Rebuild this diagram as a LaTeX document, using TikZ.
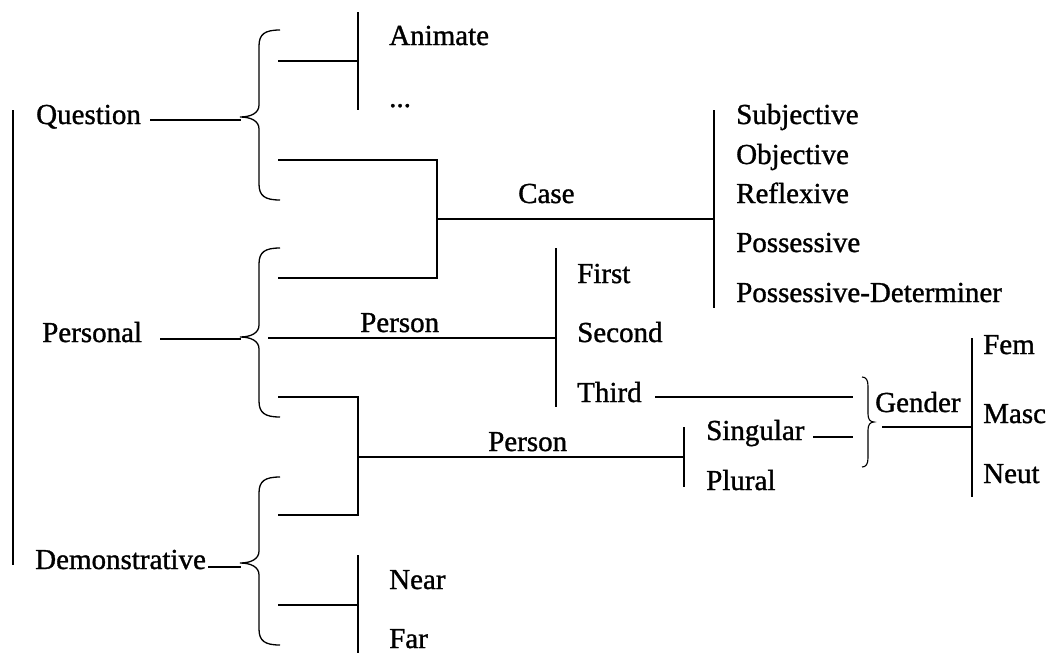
\documentclass[tikz,border=0pt]{standalone}
\usepackage{fontspec}
\setmainfont{Liberation Serif}[BoldFont={Liberation Serif},BoldFeatures={FakeBold=1.1}]
\newcommand{\leftcurl}[4]{% #1 x of stem, #2 top y, #3 tip y, #4 bottom y
  \draw[brc] (#1+21,#2) .. controls (#1+6,#2) and (#1,#2+4) .. (#1,#2+16)
    -- (#1,#3-12) .. controls (#1,#3-4) and (#1-8,#3) .. (#1-19,#3)
    .. controls (#1-8,#3) and (#1,#3+4) .. (#1,#3+12)
    -- (#1,#4-16) .. controls (#1,#4-4) and (#1+6,#4) .. (#1+21,#4);}
\begin{document}
\begin{tikzpicture}[x=1pt,y=-1pt,
  ln/.style={line width=1.6pt},
  brc/.style={line width=1.3pt},
  lbl/.style={anchor=base west, inner sep=0pt, font=\fontsize{29}{30}\selectfont\bfseries}]
\useasboundingbox[fill=white] (0,0) rectangle (1048,653);

% ---- text nodes ----
\node[lbl] (question) at (36,124) {Question};
\node[lbl] (personal) at (42,342) {Personal};
\node[lbl] (demonst) at (35,569) {Demonstrative};
\node[lbl] (animate) at (389,45) {Animate};
\node[lbl] (dots) at (389,107) {...};
\node[lbl] (case) at (518,203) {Case};
\node[lbl] (subj) at (736,124) {Subjective};
\node[lbl] (obj) at (736,164) {Objective};
\node[lbl] (refl) at (736,203) {Reflexive};
\node[lbl] (poss) at (736,252) {Possessive};
\node[lbl] (possdet) at (736,302) {Possessive-Determiner};
\node[lbl] (person1) at (360,332) {Person};
\node[lbl] (first) at (577,283) {First};
\node[lbl] (second) at (577,342) {Second};
\node[lbl] (third) at (577,402) {Third};
\node[lbl] (person2) at (488,451) {Person};
\node[lbl] (singular) at (706,440) {Singular};
\node[lbl] (plural) at (706,490) {Plural};
\node[lbl] (gender) at (875,412) {Gender};
\node[lbl] (fem) at (983,354) {Fem};
\node[lbl] (masc) at (983,423) {Masc};
\node[lbl] (neut) at (983,483) {Neut};
\node[lbl] (near) at (389,589) {Near};
\node[lbl] (far) at (389,648) {Far};

% ---- coordinates ----
\coordinate (rootT) at (13,110);  \coordinate (rootB) at (13,565);
\coordinate (qA) at (150,120);    \coordinate (qB) at (241,120);
\coordinate (pA) at (160,339);    \coordinate (pB) at (241,339);
\coordinate (dA) at (208,567);    \coordinate (dB) at (241,567);
% animate branch
\coordinate (anA) at (278,61);    \coordinate (anB) at (358,61);
\coordinate (anT) at (358,12);    \coordinate (anD) at (358,110);
% case branch
\coordinate (cA) at (278,160);    \coordinate (cB) at (437,160);
\coordinate (cC) at (437,278);    \coordinate (cD) at (278,278);
\coordinate (cM) at (437,219);    \coordinate (cE) at (714,219);
\coordinate (cT) at (714,110);    \coordinate (cBot) at (714,308);
% person 1
\coordinate (p1A) at (268,338);   \coordinate (p1B) at (556,338);
\coordinate (p1T) at (556,248);   \coordinate (p1D) at (556,407);
% person 2
\coordinate (p2A) at (278,397);   \coordinate (p2B) at (358,397);
\coordinate (p2C) at (358,515);   \coordinate (p2D) at (278,515);
\coordinate (p2M) at (358,457);   \coordinate (p2E) at (684,457);
\coordinate (p2T) at (684,427);   \coordinate (p2Bot) at (684,487);
% near/far
\coordinate (nA) at (278,605);    \coordinate (nB) at (358,605);
\coordinate (nT) at (358,555);    \coordinate (nD) at (358,653);
% gender
\coordinate (thA) at (655,397);   \coordinate (thB) at (853,397);
\coordinate (sgA) at (813,437);   \coordinate (sgB) at (853,437);
\coordinate (gA) at (882,427);    \coordinate (gB) at (972,427);
\coordinate (gT) at (972,338);    \coordinate (gD) at (972,497);

% ---- lines ----
\draw[ln] (rootT) -- (rootB);
\draw[ln] (qA) -- (qB);
\draw[ln] (pA) -- (pB);
\draw[ln] (dA) -- (dB);
\draw[ln] (anA) -- (anB);
\draw[ln] (anT) -- (anD);
\draw[ln] (cA) -- (cB) -- (cC) -- (cD);
\draw[ln] (cM) -- (cE);
\draw[ln] (cT) -- (cBot);
\draw[ln] (p1A) -- (p1B);
\draw[ln] (p1T) -- (p1D);
\draw[ln] (p2A) -- (p2B) -- (p2C) -- (p2D);
\draw[ln] (p2M) -- (p2E);
\draw[ln] (p2T) -- (p2Bot);
\draw[ln] (nA) -- (nB);
\draw[ln] (nT) -- (nD);
\draw[ln] (thA) -- (thB);
\draw[ln] (sgA) -- (sgB);
\draw[ln] (gA) -- (gB);
\draw[ln] (gT) -- (gD);

% ---- braces ----
\leftcurl{259}{30}{117}{200}
\leftcurl{259}{248}{337}{417}
\leftcurl{259}{477}{563}{645}
\draw[line width=1.1pt] (862,377) .. controls (866,377) and (868,380) .. (868,386)
  -- (868,414) .. controls (868,419) and (870,422) .. (874,422)
  .. controls (870,422) and (868,425) .. (868,430)
  -- (868,458) .. controls (868,464) and (866,467) .. (862,467);
\end{tikzpicture}
\end{document}
